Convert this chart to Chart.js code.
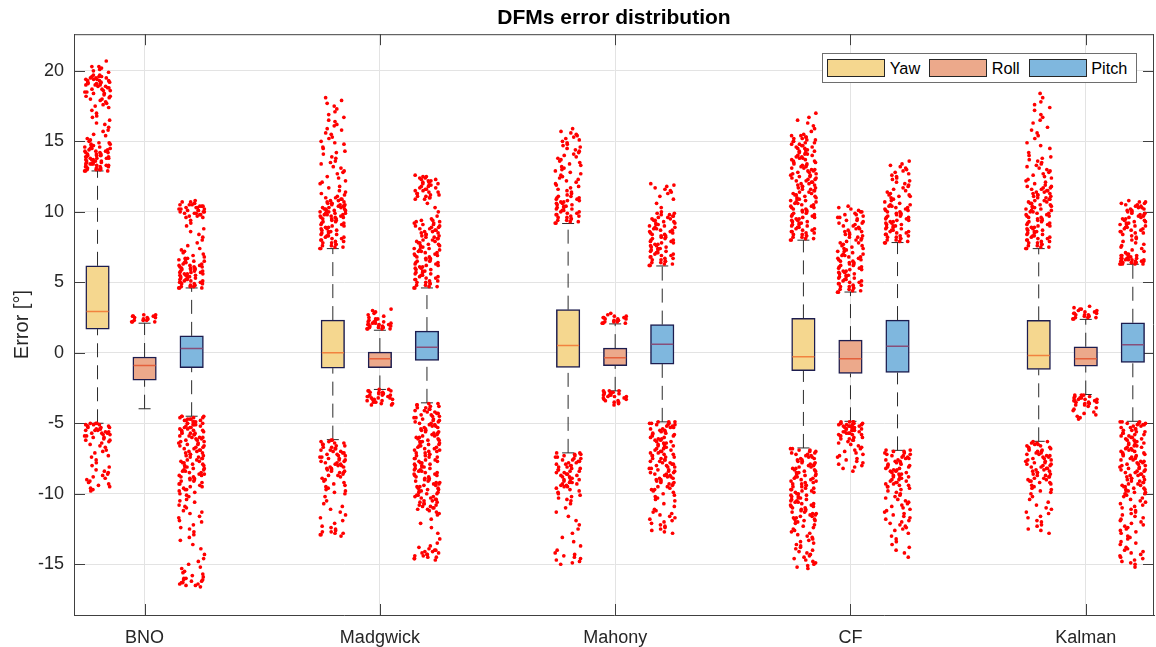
<!DOCTYPE html>
<html>
<head>
<meta charset="utf-8">
<title>DFMs error distribution</title>
<script src="https://cdn.jsdelivr.net/npm/chart.js@4.4.1/dist/chart.umd.min.js"></script>
<style>
  html, body { margin: 0; padding: 0; background: #fff; overflow: hidden; }
  #wrap { position: relative; width: 1156px; height: 647px; }
  #chart { display: block; }
  #legend {
    position: absolute; left: 822px; top: 53px; width: 315px; height: 30px;
    box-sizing: border-box; border: 1px solid #6e6e6e; background: #fff;
    display: flex; align-items: center; padding-left: 4px;
    font: 16.3px "Liberation Sans", Arial, Helvetica, sans-serif; color: #000;
  }
  #legend .item { display: flex; align-items: center; margin-right: 8.8px; white-space: nowrap; }
  #legend .sw { width: 58px; height: 18px; box-sizing: border-box; border: 1px solid #262626; margin-right: 4.7px; }
</style>
</head>
<body>
<div id="wrap">
  <canvas id="chart" width="1156" height="647"></canvas>
  <div id="legend"></div>
</div>
<script>
// ---- categories and tick values ----
const METHODS = ['BNO', 'Madgwick', 'Mahony', 'CF', 'Kalman'];
const ANGLES = ['Yaw', 'Roll', 'Pitch'];
const Y_TICKS = [-15, -10, -5, 0, 5, 10, 15, 20];

// ---- box statistics per method (BNO, Madgwick, Mahony, CF, Kalman) ----
const YAW_Q1  = [1.68, -1.09, -1.04, -1.26, -1.18];
const YAW_MED = [2.93, 0.0, 0.52, -0.28, -0.19];
const YAW_Q3  = [6.17, 2.32, 3.06, 2.44, 2.30];
const YAW_LO  = [-5.0, -6.16, -7.1, -6.75, -6.28];
const YAW_HI  = [12.9, 7.39, 9.17, 7.99, 7.39];

const ROLL_Q1  = [-1.94, -1.06, -0.92, -1.47, -0.95];
const ROLL_MED = [-0.9, -0.43, -0.36, -0.43, -0.43];
const ROLL_Q3  = [-0.3, 0.05, 0.33, 0.9, 0.43];
const ROLL_LO  = [-3.97, -2.6, -2.7, -4.86, -2.96];
const ROLL_HI  = [2.1, 1.6, 2.05, 4.31, 2.37];

const PITCH_Q1  = [-1.06, -0.54, -0.8, -1.4, -0.69];
const PITCH_MED = [0.3, 0.4, 0.6, 0.47, 0.57];
const PITCH_Q3  = [1.2, 1.54, 2.0, 2.32, 2.13];
const PITCH_LO  = [-4.5, -3.55, -4.9, -6.92, -4.86];
const PITCH_HI  = [4.6, 4.6, 6.16, 7.82, 6.28];

// ---- outlier samples beyond the whiskers, written in tenths of a degree ----
const tenths = s => s.trim().split(/\s+/).map(Number).map(v => v / 10);

const BNO_YAW_OUT = tenths(`
129 129 129 130 130 130 130 131 131 131 132 132 132 132 133 133 133 134 134 134 134 135 135 135 136 136 136 136 137 137 137 138 138 138 138 139 139 139 140 140 140 140 141 141 141 142 142 142 143 143 143 144 144 145 145 145 146 146 147 147 148 148 149 149 150
151 152 154 155 157 158 160 162 163 165 167 168 170 172 174 175
176 177 178 179 180 180 181 182 182 183 184 184 185 185 186 186 187 187 188 188 189 189 190 190 190 191 191 191 192 192 192 193 193 193 194 194 194 195 195 195 196 196 196 197 197
199 200 201 202 203 203 207
-50 -50 -50 -51 -51 -51 -52 -52 -52 -53 -53 -53 -54 -54 -54 -55 -55 -55 -56 -56 -57 -57 -57 -58 -58 -59 -59 -60 -60 -61 -62 -62 -63 -64 -65 -66
-67 -69 -70 -71 -73 -74 -76 -78 -80 -81 -83 -84 -85 -86 -87 -88 -89 -90 -91 -92 -93 -94 -95 -96 -97 -98`);
const BNO_ROLL_OUT = tenths(`22 22 22 23 23 23 24 24 24 25 25 25 26 26 26 27 27`);
const BNO_PITCH_OUT = tenths(`
46 46 46 47 47 47 48 48 48 49 49 49 50 50 50 51 51 51 52 52 52 53 53 53 54 54 54 55 55 55 56 56 56 57 57 57 58 58 58 59 59 59 60 60 60 61 61 61 62 62 62 63 63 64 64 65 65 66 66 67 67 68 69 70 71 72 73
74 76 78 80 82 84 86 88 90 92 94
96 96 97 97 98 98 99 99 99 100 100 100 101 101 101 102 102 102 103 103 103 104 104 104 105 105 105 106 106 107 107 108
-45 -45 -45 -46 -46 -46 -47 -47 -47 -48 -48 -48 -49 -49 -49 -50 -50 -50 -51 -51 -51 -52 -52 -53 -53 -53 -54 -54 -55 -55 -55 -56 -56 -57 -57 -57 -58 -58 -59 -59 -60 -60 -60 -61 -61 -62 -62 -63 -63 -64 -64 -65 -65 -66 -66 -67 -67 -68 -68 -69 -69 -70 -70 -71 -71 -72 -72 -73 -73 -74 -74 -75 -75 -76 -76 -77 -77 -78 -78 -79 -79 -80 -80 -81 -81 -82 -82 -83 -83 -84 -84 -85 -85 -86 -86 -87 -87 -88 -88 -89 -89 -90 -90 -91 -91 -92 -93 -93 -94 -95 -95 -96 -97 -97 -98 -99 -100
-101 -102 -104 -105 -106 -108 -109 -110 -112 -113 -114 -116 -117 -119 -120 -122 -124 -125 -127 -129 -131 -133 -136 -139
-143 -146 -148 -150 -152 -153 -155 -156 -157 -158 -159 -160 -160 -161 -161 -162 -162 -163 -163 -164 -164 -165 -165 -166`);

const MADG_YAW_OUT = tenths(`
74 74 75 75 76 76 77 77 78 78 79 79 80 80 81 81 82 82 83 83 84 84 85 85 86 86 87 87 88 88 89 89 90 90 91 91 92 92 93 93 94 94 95 95 95 96 96 96 97 97 97 98 98 98 99 99 99 100 100 100 101 101 101 102 102 102 103 103 103 104 104 104 105 105 105 106 106 106 107 107 108 108 109 109 110 110 111 112 113
114 115 117 118 120 121 122 124 125 127 128 129 131 132 134 135 136 138 139 141 142 143 145 146 148 149 150 152 153 155 156 158 159 161 162 164 165 167 169 171 173 175 177 179 181
-62 -62 -63 -63 -64 -64 -65 -65 -66 -66 -67 -67 -68 -68 -69 -69 -70 -70 -71 -71 -72 -72 -73 -73 -74 -74 -75 -75 -76 -76 -77 -77 -78 -78 -79 -79 -80 -80 -81 -81 -82 -82 -83 -83 -84 -84 -85 -85 -86 -87 -87 -88 -89 -90 -91 -92 -93 -94 -95 -96 -97 -98 -99 -100
-102 -105 -107 -109 -111 -113 -115 -117 -119 -121 -123 -124 -125 -126 -127 -127 -128 -128 -129 -129 -130`);
const MADG_ROLL_OUT = tenths(`
17 17 17 17 18 18 18 18 19 19 19 19 20 20 20 20 21 21 21 22 22 22 23 23 24 24 25 26 27 28 29 30 31
-26 -26 -27 -27 -27 -28 -28 -28 -29 -29 -29 -30 -30 -30 -31 -31 -31 -32 -32 -32 -33 -33 -33 -34 -34 -34 -35 -35 -36 -36 -37 -37`);
const MADG_PITCH_OUT = tenths(`
46 46 47 47 48 48 49 49 50 50 51 51 52 52 53 53 54 54 55 55 56 56 57 57 58 58 59 59 60 60 61 61 62 62 63 63 64 64 65 65 66 66 67 67 68 68 69 69 70 70 71 71 72 72 73 73 74 74 75 75 76 76 77 77 78 78 79 79 80 80 81 81 82 82 83 83 84 84 85 85 86 86 87 87 88 88 89 89 90 90 91 91 92 92 93 93 94 94 95
97 100 103 106
109 109 110 110 111 111 112 112 113 113 114 114 115 115 116 116 117 117 118 118 119 119 120 120 121 121 122 122 123 123 124 124 125 125 126
-36 -36 -37 -37 -38 -38 -39 -39 -40 -40 -41 -41 -42 -42 -43 -43 -44 -44 -45 -45 -46 -46 -47 -47 -48 -48 -49 -49 -50 -50 -51 -51 -52 -52 -53 -53 -54 -54 -55 -55 -56 -56 -57 -57 -58 -58 -59 -59 -60 -60 -61 -61 -62 -62 -63 -63 -64 -64 -65 -65 -66 -66 -67 -67 -68 -68 -69 -69 -70 -70 -71 -71 -72 -72 -73 -73 -74 -74 -75 -75 -76 -76 -77 -77 -78 -78 -79 -79 -80 -80 -81 -81 -82 -82 -83 -83 -84 -84 -85 -85 -86 -86 -87 -87 -88 -88 -89 -89 -90 -90 -91 -91 -92 -92 -93 -93 -94 -94 -95 -95 -96 -96 -97 -97 -98 -98 -99 -99 -100 -100 -101 -101 -102 -102 -103 -103 -104 -104 -105 -105 -106 -106 -107 -107 -108 -108 -109 -109 -110 -110 -111 -111 -112 -113 -114 -115
-118 -121 -124 -128 -132 -135
-137 -138 -139 -140 -140 -141 -141 -142 -142 -143 -143 -144 -144 -145 -145 -146 -146 -147`);

const MAHO_YAW_OUT = tenths(`
92 92 93 93 94 94 95 95 96 96 97 97 98 98 99 99 100 100 101 101 102 102 103 103 104 104 105 105 106 106 107 107 108 108 109 109 110 110 111 111 112 113 114 115 116 117
118 119 120 121 122 123 124 125 126 127 128 129 130 131 132 133 134 135 136 137 138 139 140 141 142 143 144 145 146 147 148 149 150 151 152 153 154 155 156 157 159
-71 -71 -72 -72 -73 -73 -74 -74 -75 -75 -76 -76 -77 -77 -78 -78 -79 -79 -80 -80 -81 -81 -82 -82 -83 -83 -84 -84 -85 -85 -86 -86 -87 -87 -88 -88 -89 -89 -90 -90 -91 -91 -92 -92 -93 -93 -94 -94 -95 -95 -96 -97 -98 -99 -100 -101 -102 -103 -104 -105
-107 -110 -113 -116 -119 -122 -125 -128 -131 -134 -137 -140 -142 -143 -144 -145 -146 -147 -148 -149 -150`);
const MAHO_ROLL_OUT = tenths(`
21 21 21 22 22 22 23 23 23 24 24 24 25 25 25 26 26 27 28
-27 -27 -27 -28 -28 -28 -29 -29 -29 -30 -30 -30 -31 -31 -31 -32 -32 -33 -33 -34 -34 -35 -35 -36 -37`);
const MAHO_PITCH_OUT = tenths(`
62 62 63 63 64 64 65 65 66 66 67 67 68 68 69 69 70 70 71 71 72 72 73 73 74 74 75 75 76 76 77 77 78 78 79 79 80 80 81 81 82 82 83 83 84 84 85 85 86 86 87 87 88 88 89 89 90 90 91 91 92 92 93 93 94 94 95 95 96 96 97 97 98 98 99 99 100
103 106 109 111 113 114 115 116 117 118 119 120
-49 -49 -49 -50 -50 -50 -51 -51 -51 -52 -52 -53 -53 -54 -54 -55 -55 -56 -56 -57 -57 -58 -58 -59 -59 -60 -60 -61 -61 -62 -62 -63 -63 -64 -64 -65 -65 -66 -66 -67 -67 -68 -68 -69 -69 -70 -70 -71 -71 -72 -72 -73 -73 -74 -74 -75 -75 -76 -76 -77 -77 -78 -78 -79 -79 -80 -80 -81 -81 -82 -82 -83 -83 -84 -84 -85 -85 -86 -86 -87 -87 -88 -88 -89 -89 -90 -90 -91 -91 -92 -92 -93 -93 -94 -95 -95 -96 -97 -97 -98 -99 -100 -101 -102 -103 -104 -105
-107 -109 -111 -112 -113 -114 -115 -116 -117 -118 -119 -120 -121 -122 -123 -124 -125 -126 -127 -128`);

const CF_YAW_OUT = tenths(`
80 80 81 81 82 82 83 83 84 84 85 85 86 86 87 87 88 88 89 89 90 90 91 91 92 92 93 93 94 94 95 95 96 96 97 97 98 98 99 99 100 100 101 101 102 102 103 103 104 104 105 105 106 106 107 107 108 108 109 109 110 110 111 111 112 112 113 113 114 114 115 115 116 116 117 117 118 118 119 119 120 120 121 121 122 122 123 123 124 124 125 125 126 126 127 127 128 128 129 129 130 130 131 131 132 132 133 133 134 134 135 135 136 136 137 137 138 138 139 139 140 140 141 141 142 142 143 143 144 144 145 145 146 146 147 147 148 148 149 149 150 150 151 151 152 152 153 153 154 154 155
157 159 161 163 165 167 170
-68 -68 -69 -69 -70 -70 -71 -71 -72 -72 -73 -73 -74 -74 -75 -75 -76 -76 -77 -77 -78 -78 -79 -79 -80 -80 -81 -81 -82 -82 -83 -83 -84 -84 -85 -85 -86 -86 -87 -87 -88 -88 -89 -89 -90 -90 -91 -91 -92 -92 -93 -93 -94 -94 -95 -95 -96 -96 -97 -97 -98 -98 -99 -99 -100 -100 -101 -101 -102 -102 -103 -103 -104 -104 -105 -105 -106 -106 -107 -107 -108 -108 -109 -109 -110 -110 -111 -111 -112 -112 -113 -113 -114 -114 -115 -115 -116 -116 -117 -117 -118 -118 -119 -119 -120 -120
-121 -122 -123 -124 -125 -126 -127 -128 -129 -130 -131 -132 -133 -134 -135 -136 -137 -138 -139 -140 -141 -142 -143 -144 -145 -146 -147 -148 -149 -150 -151 -152 -153`);
const CF_ROLL_OUT = tenths(`
43 43 44 44 45 45 46 46 47 47 48 48 49 49 50 50 51 51 52 52 53 53 54 54 55 55 56 56 57 57 58 58 59 59 60 60 61 61 62 62 63 63 64 64 65 65 66 66 67 67 68 68 69 69 70 70 71 72 72 73 74 74 75 76 76 77 78 78 79 80 80 81 82 82 83 84 84 85 86 86 87 88 88 89 90 90 91 92 92 93 94 94 95 96 96 97 98 98 99 100 100 101 102 103 104
-49 -49 -49 -49 -50 -50 -50 -50 -51 -51 -51 -51 -52 -52 -52 -52 -53 -53 -53 -53 -54 -54 -54 -55 -55 -55 -56 -56 -56 -57 -57 -57 -58 -58 -58 -59 -59 -60 -60 -61 -61 -62 -62
-63 -64 -65 -66 -67 -68 -69 -70 -71 -72 -73 -74 -75 -76 -77 -78 -79 -80 -81 -82 -84`);
const CF_PITCH_OUT = tenths(`
78 78 79 79 80 80 81 81 82 82 83 83 84 84 85 85 86 86 87 87 88 88 89 89 90 90 91 91 92 92 93 93 94 94 95 95 96 96 97 97 98 98 99 99 100 100 101 101 102 102 103 103 104 104 105 105
106 107 108 109 110 111 111 112 112 113 114 115 116 117 118 119 120 121 122 123 124 125 126 127 128 129 130 131 132 133 134 136
-69 -69 -70 -70 -71 -71 -72 -72 -73 -73 -74 -74 -75 -75 -76 -76 -77 -77 -78 -78 -79 -79 -80 -80 -81 -81 -82 -82 -83 -83 -84 -84 -85 -85 -86 -86 -87 -87 -88 -88 -89 -89 -90 -90 -91 -91 -92 -92 -93 -93 -94 -94 -95 -95
-96 -97 -98 -99 -100 -101 -102 -103 -104 -105 -106 -107 -108 -109 -110 -111 -112 -113 -114 -115 -116 -117 -118 -119 -120 -121 -122 -123 -124 -125 -126 -128 -130 -132 -134 -136 -138 -140 -142 -145`);

const KALM_YAW_OUT = tenths(`
74 74 75 75 76 76 77 77 78 78 79 79 80 80 81 81 82 82 83 83 84 84 85 85 86 86 87 87 88 88 89 89 90 90 91 91 92 92 93 93 94 94 95 95 96 96 97 97 98 98 99 99 100 100 101 101 102 102 103 103 104 104 105 105 106 106 107 107 108 108 109 109 110 110 111 111 112 112 113 113 114 114 115 115 116 116 117 117 118 118
119 120 121 122 123 124 125 126 127 128 129 130 131 132 133 134 135 136 137 138 139 140
142 145 147 149 152 154 156 158 160 163 165 167 169 172 174 176 178 181 184
-63 -63 -64 -64 -65 -65 -66 -66 -67 -67 -68 -68 -69 -69 -70 -70 -71 -71 -72 -72 -73 -73 -74 -74 -75 -75 -76 -76 -77 -77 -78 -78 -79 -79 -80 -80 -81 -81 -82 -82 -83 -83 -84 -84 -85 -85 -86 -86 -87 -87 -88 -88 -89 -89 -90 -90 -91 -91 -92 -92 -93 -94 -95 -96 -97 -98 -99 -100
-102 -104 -106 -108 -110 -111 -113 -114 -116 -117 -119 -120 -122 -123 -125 -126 -128`);
const KALM_ROLL_OUT = tenths(`
24 24 25 25 25 26 26 26 27 27 27 28 28 28 29 29 30 30 31 31 32 33
-30 -30 -30 -31 -31 -31 -32 -32 -32 -33 -33 -33 -34 -34 -34 -35 -35 -35 -36 -36 -36 -37 -37 -38 -39 -40 -41 -42 -43 -44 -45 -46 -47`);
const KALM_PITCH_OUT = tenths(`
63 63 63 63 63 64 64 64 64 64 65 65 65 65 65 66 66 66 66 67 67 67 67 68 68 68 69 69 69 70 70
71 72 73 74 75 76 77 78 79 80 81 82 83 84
85 85 86 86 87 87 88 88 89 89 90 90 91 91 92 92 93 93 94 94 95 95 96 96 97 97 98 98 99 99 100 100 101 101 102 102 103 103 104 104 105 105 106 106 107 107 108
-49 -49 -49 -50 -50 -50 -51 -51 -51 -52 -52 -53 -53 -54 -54 -55 -55 -56 -56 -57 -57 -58 -58 -59 -59 -60 -60 -61 -61 -62 -62 -63 -63 -64 -64 -65 -65 -66 -66 -67 -67 -68 -68 -69 -69 -70 -70 -71 -71 -72 -72 -73 -73 -74 -74 -75 -75 -76 -76 -77 -77 -78 -78 -79 -79 -80 -80 -81 -81 -82 -82 -83 -83 -84 -84 -85 -85 -86 -86 -87 -87 -88 -88 -89 -89 -90 -90 -91 -91 -92 -92 -93 -93 -94 -94 -95 -95 -96 -96 -97 -97 -98 -98 -99 -99 -100 -100 -101 -102 -103 -104 -105 -106 -107 -108 -109 -110
-111 -112 -113 -114 -115 -116 -117 -118 -119 -120 -121 -122 -123 -124 -125 -126 -127 -128 -130 -131 -132 -134 -135 -136 -138 -139 -140 -141 -142 -143 -144 -145 -146 -147 -148 -149 -150 -152`);

// ---- styling ----
const FONT = '"Liberation Sans", Arial, Helvetica, sans-serif';
const AXIS_COLOR = '#404040';
const TEXT_COLOR = '#262626';
const GRID_COLOR = '#e3e3e3';
const BOX_EDGE = '#1d1d4f';
const WHISKER = '#2b2b2b';
const DOT = '#ff0000';
const BOX_WIDTH_PX = 23.5;
const JITTER = 0.055;           // half-width of the sideways spread of outlier dots
const GOLDEN = 0.6180339887;    // Weyl-sequence steps used for that spread
const SILVER = 0.4142135624;

const SERIES = [
  { name: 'Yaw',   off: -0.2, q1: YAW_Q1,   med: YAW_MED,   q3: YAW_Q3,   lo: YAW_LO,   hi: YAW_HI,
    out: [BNO_YAW_OUT, MADG_YAW_OUT, MAHO_YAW_OUT, CF_YAW_OUT, KALM_YAW_OUT],
    fill: '#F5D78F', median: '#F2823F' },
  { name: 'Roll',  off: 0.0,  q1: ROLL_Q1,  med: ROLL_MED,  q3: ROLL_Q3,  lo: ROLL_LO,  hi: ROLL_HI,
    out: [BNO_ROLL_OUT, MADG_ROLL_OUT, MAHO_ROLL_OUT, CF_ROLL_OUT, KALM_ROLL_OUT],
    fill: '#ECA98B', median: '#E4613C' },
  { name: 'Pitch', off: 0.2,  q1: PITCH_Q1, med: PITCH_MED, q3: PITCH_Q3, lo: PITCH_LO, hi: PITCH_HI,
    out: [BNO_PITCH_OUT, MADG_PITCH_OUT, MAHO_PITCH_OUT, CF_PITCH_OUT, KALM_PITCH_OUT],
    fill: '#7FB7DE', median: '#874E79' }
];

// deterministic sideways spread in [-JITTER, JITTER]
const spread = j => (((j * GOLDEN + j * j * SILVER) % 1) - 0.5) * 2 * JITTER;

const datasets = [];
SERIES.forEach(s => {
  const xs = METHODS.map((m, i) => i + 1 + s.off);
  // boxes (interquartile range)
  datasets.push({
    type: 'bar', label: s.name,
    data: xs.map((x, i) => ({ x, y: [s.q1[i], s.q3[i]] })),
    backgroundColor: s.fill, borderColor: BOX_EDGE, borderWidth: 1.5,
    borderSkipped: false, barThickness: BOX_WIDTH_PX, grouped: false, order: 5
  });
  // whiskers, each drawn from its lower end upwards
  datasets.push({
    type: 'line', label: s.name + ' whiskers',
    data: xs.flatMap((x, i) => [
      { x, y: s.lo[i] }, { x, y: s.q1[i] }, { x, y: null },
      { x, y: s.q3[i] }, { x, y: s.hi[i] }, { x, y: null }
    ]),
    borderColor: WHISKER, borderWidth: 1, borderDash: [14, 8],
    pointRadius: 0, spanGaps: false, fill: false, order: 4
  });
  // whisker caps
  datasets.push({
    type: 'scatter', label: s.name + ' caps',
    data: xs.flatMap((x, i) => [{ x, y: s.lo[i] }, { x, y: s.hi[i] }]),
    pointStyle: 'line', pointRadius: 6, borderColor: WHISKER, borderWidth: 1, order: 3
  });
  // medians
  datasets.push({
    type: 'scatter', label: s.name + ' median',
    data: xs.map((x, i) => ({ x, y: s.med[i] })),
    pointStyle: 'line', pointRadius: 11, borderColor: s.median, borderWidth: 1.5, order: 2
  });
  // outlier samples
  datasets.push({
    type: 'scatter', label: s.name + ' samples',
    data: s.out.flatMap((vals, i) => vals.map((v, j) => ({ x: xs[i] + spread(j), y: v }))),
    pointRadius: 1.85, pointBackgroundColor: DOT, pointBorderWidth: 0, order: 1
  });
});

// axes box on all four sides with inward tick marks
const frame = {
  id: 'frame',
  beforeDatasetsDraw(chart) {
    const { ctx, chartArea: a, scales: { x, y } } = chart;
    const L = 11;
    ctx.save();
    ctx.strokeStyle = AXIS_COLOR;
    ctx.lineWidth = 1;
    ctx.beginPath();
    ctx.moveTo(a.left, a.top + 0.5); ctx.lineTo(a.right, a.top + 0.5);
    ctx.moveTo(a.right - 0.5, a.top); ctx.lineTo(a.right - 0.5, a.bottom);
    x.ticks.forEach(t => {
      const px = Math.round(x.getPixelForValue(t.value)) + 0.5;
      ctx.moveTo(px, a.bottom); ctx.lineTo(px, a.bottom - L);
      ctx.moveTo(px, a.top); ctx.lineTo(px, a.top + L);
    });
    y.ticks.forEach(t => {
      const py = Math.round(y.getPixelForValue(t.value)) + 0.5;
      ctx.moveTo(a.left, py); ctx.lineTo(a.left + L, py);
      ctx.moveTo(a.right, py); ctx.lineTo(a.right - L, py);
    });
    ctx.stroke();
    ctx.restore();
  }
};

Chart.defaults.font.family = FONT;

new Chart(document.getElementById('chart'), {
  type: 'scatter',
  data: { datasets },
  options: {
    responsive: false,
    animation: false,
    events: [],
    layout: { autoPadding: false, padding: { left: 0, right: 2, top: 0, bottom: 0 } },
    plugins: {
      legend: { display: false },
      tooltip: { enabled: false },
      title: {
        display: true, text: 'DFMs error distribution', fullSize: false,
        color: '#000', font: { size: 21, weight: 'bold', family: FONT },
        padding: { top: 6, bottom: 3 }
      }
    },
    scales: {
      x: {
        type: 'linear', min: 0.7, max: 5.29, offset: false,
        afterBuildTicks: s => { s.ticks = METHODS.map((m, i) => ({ value: i + 1 })); },
        afterFit: s => { s.height = 32; s.paddingLeft = 0; s.paddingRight = 0; },
        ticks: {
          callback: v => METHODS[v - 1], autoSkip: false, maxRotation: 0,
          color: TEXT_COLOR, font: { size: 18 }, padding: 12
        },
        grid: { color: GRID_COLOR, lineWidth: 1, drawTicks: false, offset: false },
        border: { display: true, color: AXIS_COLOR, width: 1 }
      },
      y: {
        type: 'linear', min: -18.6, max: 22.6,
        afterBuildTicks: s => { s.ticks = Y_TICKS.map(v => ({ value: v })); },
        afterFit: s => { s.width = 74; s.paddingTop = 0; s.paddingBottom = 0; },
        ticks: { color: TEXT_COLOR, font: { size: 18 }, padding: 10 },
        grid: { color: GRID_COLOR, lineWidth: 1, drawTicks: false },
        border: { display: true, color: AXIS_COLOR, width: 1 },
        title: {
          display: true, text: 'Error [°]', color: TEXT_COLOR,
          font: { size: 20 }, padding: { top: 10, bottom: 0 }
        }
      }
    }
  },
  plugins: [frame]
});

// legend drawn inside the axes, top right
const legend = document.getElementById('legend');
SERIES.forEach(s => {
  const item = document.createElement('div');
  item.className = 'item';
  const sw = document.createElement('span');
  sw.className = 'sw';
  sw.style.background = s.fill;
  const label = document.createElement('span');
  label.textContent = s.name;
  item.appendChild(sw);
  item.appendChild(label);
  legend.appendChild(item);
});
</script>
</body>
</html>
